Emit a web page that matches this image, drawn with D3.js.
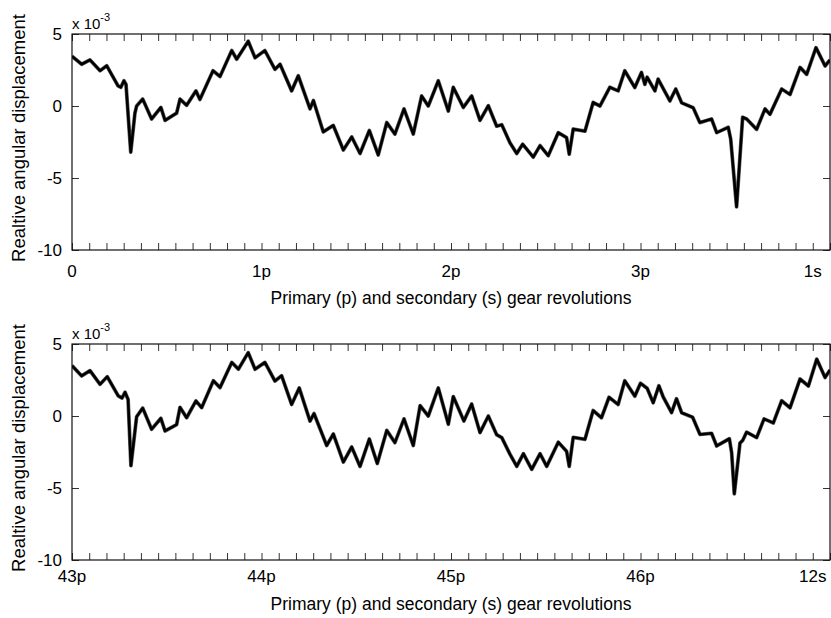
<!DOCTYPE html>
<html>
<head>
<meta charset="utf-8">
<script src="https://cdn.jsdelivr.net/npm/d3@7"></script>
<style>
body { margin:0; background:#fff; }
text { font-family: Arial, "Liberation Sans", sans-serif; fill:#000; }
</style>
</head>
<body>
<div id="chart-area"></div>
<script>
// top panel: revolutions of primary gear (p) and displacement (x 10^-3)
var topRev = [0.000,0.051,0.095,0.148,0.183,0.243,0.258,0.274,0.285,0.310,0.332,0.341,0.373,0.420,0.469,0.491,0.552,0.570,0.605,0.654,
  0.675,0.744,0.781,0.843,0.869,0.930,0.966,1.018,1.071,1.098,1.159,1.194,1.256,1.274,1.326,1.379,1.432,1.476,1.520,1.569,
  1.616,1.661,1.704,1.752,1.801,1.845,1.880,1.933,1.986,2.012,2.065,2.109,2.153,2.197,2.241,2.268,2.311,2.347,2.378,2.434,
  2.470,2.513,2.566,2.610,2.624,2.645,2.707,2.750,2.786,2.838,2.882,2.917,2.970,3.005,3.023,3.035,3.076,3.093,3.155,3.186,
  3.217,3.278,3.313,3.375,3.402,3.463,3.476,3.507,3.539,3.560,3.613,3.657,3.683,3.745,3.789,3.842,3.877,3.926,3.974,4.000];
var topDisp = [3.45,2.9,3.2,2.45,2.8,1.4,1.3,1.75,1.5,-3.2,-0.5,0.0,0.48,-0.9,-0.1,-1.0,-0.5,0.48,0.05,1.05,
  0.45,2.45,2.05,3.85,3.25,4.5,3.35,3.85,2.55,2.9,1.05,2.1,-0.2,0.38,-1.8,-1.35,-3.05,-2.15,-3.3,-1.7,
  -3.4,-1.15,-1.95,-0.2,-1.95,0.7,0.0,1.75,-0.35,1.3,-0.1,0.7,-1.0,0.02,-1.4,-1.3,-2.55,-3.3,-2.65,-3.55,
  -2.75,-3.45,-1.85,-2.2,-3.35,-1.6,-1.75,0.25,0.0,1.3,1.05,2.45,1.28,2.33,1.5,2.0,1.05,1.87,0.35,1.18,
  0.22,-0.12,-1.15,-0.9,-1.85,-1.48,-2.3,-7.0,-0.78,-0.9,-1.62,-0.2,-0.58,1.18,0.8,2.68,2.2,4.05,2.78,3.2];

// bottom panel
var botRev = [43.000,43.051,43.095,43.148,43.186,43.244,43.264,43.280,43.296,43.311,43.341,43.373,43.420,43.469,43.491,43.552,43.570,43.605,43.654,43.684,
  43.746,43.781,43.843,43.878,43.930,43.966,44.018,44.071,44.106,44.159,44.199,44.256,44.277,44.344,44.379,44.432,44.476,44.520,44.569,44.611,
  44.661,44.704,44.752,44.801,44.837,44.880,44.933,44.986,45.012,45.068,45.109,45.153,45.197,45.241,45.268,45.311,45.347,45.382,45.426,45.470,
  45.505,45.566,45.610,45.624,45.645,45.707,45.750,45.794,45.834,45.882,45.917,45.970,46.000,46.035,46.067,46.097,46.120,46.164,46.190,46.217,
  46.275,46.314,46.375,46.402,46.469,46.481,46.495,46.525,46.539,46.560,46.613,46.652,46.701,46.745,46.789,46.842,46.886,46.930,46.974,47.000];
var botDisp = [3.5,2.78,3.15,2.2,2.73,1.4,1.25,1.65,1.15,-3.45,-0.05,0.55,-0.92,-0.16,-1.04,-0.6,0.6,-0.12,1.05,0.58,
  2.45,1.97,3.72,3.25,4.4,3.25,3.72,2.43,2.8,0.8,1.95,-0.35,0.17,-2.05,-1.25,-3.2,-2.15,-3.5,-1.6,-3.3,
  -1.0,-1.85,-0.2,-2.05,0.72,0.0,1.95,-0.57,1.35,-0.35,0.83,-1.15,0.0,-1.3,-1.5,-2.65,-3.5,-2.62,-3.7,-2.62,
  -3.5,-1.82,-2.45,-3.5,-1.48,-1.62,0.38,-0.12,1.3,0.8,2.45,1.38,2.27,1.92,0.92,2.1,1.32,0.23,1.2,0.23,
  -0.08,-1.28,-1.2,-2.08,-1.58,-2.55,-5.4,-1.88,-1.7,-1.12,-1.5,-0.2,-0.48,1.06,0.57,2.57,2.08,3.95,2.67,3.2];

// tick labels
var topTickVals = [0, 1, 2, 3, 3.909];
var topTickLabels = ["0", "1p", "2p", "3p", "1s"];
var botTickVals = [43, 44, 45, 46, 46.909];
var botTickLabels = ["43p", "44p", "45p", "46p", "12s"];
var yTickVals = [5, 0, -5, -10];
var teethPerRev = 11;

var W = 831, H = 618;
var margin = { left:72, top:34 };
var width = 758, height = 216;

var svg = d3.select("#chart-area").append("svg")
    .attr("width", W)
    .attr("height", H);

drawPanel(34, topRev, topDisp, [0,4], topTickVals, topTickLabels, 27, 304);
drawPanel(344, botRev, botDisp, [43,47], botTickVals, botTickLabels, 22, 610);

function drawPanel(top, rev, disp, dom, tickVals, tickLabels, labelDy, titleY){
    var g = svg.append("g")
        .attr("transform", "translate("+margin.left+","+top+")");

    var x = d3.scaleLinear().domain(dom).range([0,width]);
    var y = d3.scaleLinear().domain([-10,5]).range([height,0]);

    var minor = d3.range(0, 4*teethPerRev + 1).map(function(k){ return dom[0] + k/teethPerRev; });

    //inward ticks, bottom and top
    var xb = g.append("g")
        .attr("transform","translate(0,"+height+")")
        .call(d3.axisBottom(x).tickValues(minor).tickSize(-7).tickFormat(""));
    var xt = g.append("g")
        .call(d3.axisTop(x).tickValues(minor).tickSize(-7).tickFormat(""));
    var yl = g.append("g")
        .call(d3.axisLeft(y).tickValues(yTickVals).tickSize(-7).tickFormat(""));
    var yr = g.append("g")
        .attr("transform","translate("+width+",0)")
        .call(d3.axisRight(y).tickValues(yTickVals).tickSize(-7).tickFormat(""));
    [xb,xt,yl,yr].forEach(function(a){
        a.select(".domain").remove();
        a.selectAll("line").attr("stroke","#333").attr("stroke-width",1);
    });

    //tick labels
    g.selectAll(".xlab").data(tickVals).enter().append("text")
        .attr("class","xlab")
        .attr("x", function(d){ return x(d); })
        .attr("y", height + labelDy)
        .attr("text-anchor","middle")
        .style("font-size","17px")
        .text(function(d,i){ return tickLabels[i]; });

    g.selectAll(".ylab").data(yTickVals).enter().append("text")
        .attr("class","ylab")
        .attr("x", -10)
        .attr("y", function(d){ return y(d); })
        .attr("dy","0.35em")
        .attr("text-anchor","end")
        .style("font-size","17px")
        .text(function(d){ return d; });

    //exponent
    var ex = g.append("text")
        .attr("x", 0)
        .attr("y", -5)
        .style("font-size","15px");
    ex.append("tspan").text("x 10");
    ex.append("tspan").attr("dy",-8).style("font-size","11px").text("-3");

    //clip
    var cid = "clip" + top;
    g.append("clipPath").attr("id",cid)
        .append("rect").attr("width",width).attr("height",height);

    var line = d3.line()
        .x(function(d,i){ return x(rev[i]); })
        .y(function(d){ return y(d); });

    g.append("path")
        .attr("clip-path","url(#"+cid+")")
        .attr("d", line(disp))
        .attr("fill","none")
        .attr("stroke","#666")
        .attr("stroke-width",3.8)
        .attr("stroke-linejoin","round");
    g.append("path")
        .attr("clip-path","url(#"+cid+")")
        .attr("d", line(disp))
        .attr("fill","none")
        .attr("stroke","#000")
        .attr("stroke-width",2.6)
        .attr("stroke-linejoin","round");

    //frame
    g.append("rect")
        .attr("width",width).attr("height",height)
        .attr("fill","none").attr("stroke","#111").attr("stroke-width",1.2);

    //titles
    svg.append("text")
        .attr("x", margin.left + width/2)
        .attr("y", titleY)
        .attr("text-anchor","middle")
        .style("font-size","17.5px")
        .text("Primary (p) and secondary (s) gear revolutions");

    svg.append("text")
        .attr("transform","translate(25,"+(top + height/2 - 4)+") rotate(-90)")
        .attr("text-anchor","middle")
        .style("font-size","18.5px")
        .text("Realtive angular displacement");
}
</script>
</body>
</html>
